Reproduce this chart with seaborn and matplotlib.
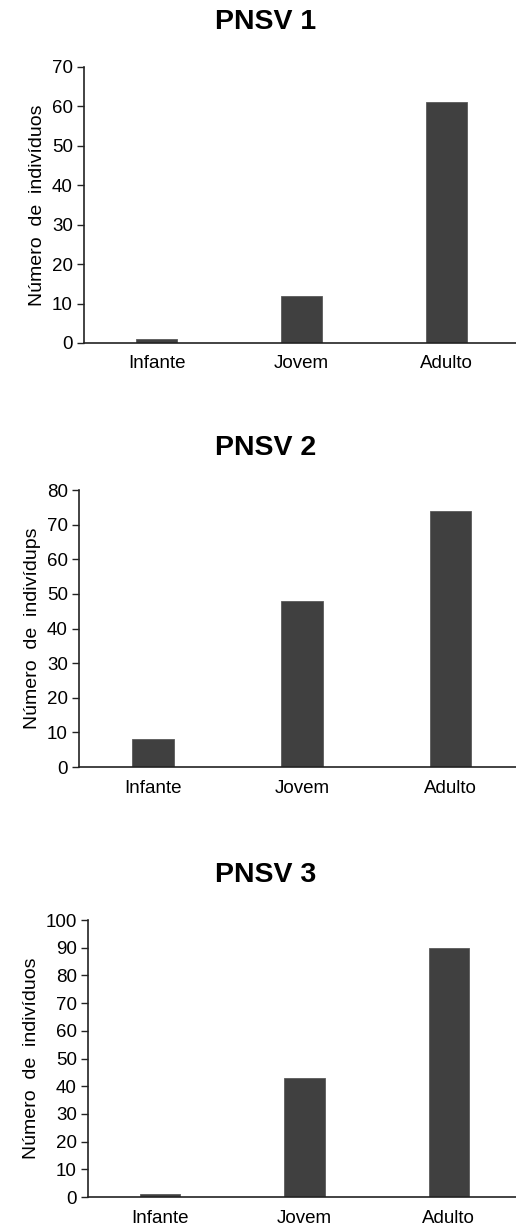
import matplotlib
matplotlib.use("Agg")
import matplotlib.pyplot as plt
import seaborn as sns
import pandas as pd

categories = ["Infante", "Jovem", "Adulto"]
pnsv1 = [1, 12, 61]
pnsv2 = [8, 48, 74]
pnsv3 = [1, 43, 90]
titles = ["PNSV 1", "PNSV 2", "PNSV 3"]
ylabels = ["Número  de  indivíduos", "Número  de  indivídups", "Número  de  indivíduos"]
ymax = [70, 80, 100]

sns.set_style("white")
plt.rcParams["font.family"] = ["Liberation Sans", "DejaVu Sans"]
plt.rcParams["text.color"] = "black"
plt.rcParams["axes.labelcolor"] = "black"
plt.rcParams["xtick.color"] = "black"
plt.rcParams["ytick.color"] = "black"

fig = plt.figure(figsize=(5.16, 12.31), dpi=100)
# axes rectangles: left, bottom, width, height
rects = [
    [0.1628, 0.7214, 0.843, 0.2242],
    [0.1531, 0.3769, 0.864, 0.2250],
    [0.1705, 0.0276, 0.839, 0.2250],
]
title_y = [22, 448, 875]

for vals, title, ylab, top, rect, ty in zip([pnsv1, pnsv2, pnsv3], titles, ylabels,
                                            ymax, rects, title_y):
    ax = fig.add_axes(rect)
    df = pd.DataFrame({"cat": categories, "n": vals})
    sns.barplot(data=df, x="cat", y="n", ax=ax, color="#404040", saturation=1,
                width=0.28, edgecolor="#5a5a5a", linewidth=0.6)
    ax.set_xlim(-0.5, 2.5)
    ax.set_ylim(0, top)
    ax.set_yticks(range(0, top + 1, 10))
    ax.set_xlabel("")
    ax.set_ylabel(ylab, fontsize=14, labelpad=4)
    ax.tick_params(axis="y", left=True, direction="out", length=5, width=1,
                   color="#222222", labelsize=13.5, pad=3)
    ax.tick_params(axis="x", bottom=False, length=0, labelsize=13.5, pad=9)
    for s in ["top", "right"]:
        ax.spines[s].set_visible(False)
    for s in ["left", "bottom"]:
        ax.spines[s].set_color("#222222")
        ax.spines[s].set_linewidth(1.2)
    fig.text(0.515, 1 - ty / 1231, title, ha="center", va="center",
             fontsize=20.5, fontweight="bold")

fig.savefig("out.png", dpi=100)
